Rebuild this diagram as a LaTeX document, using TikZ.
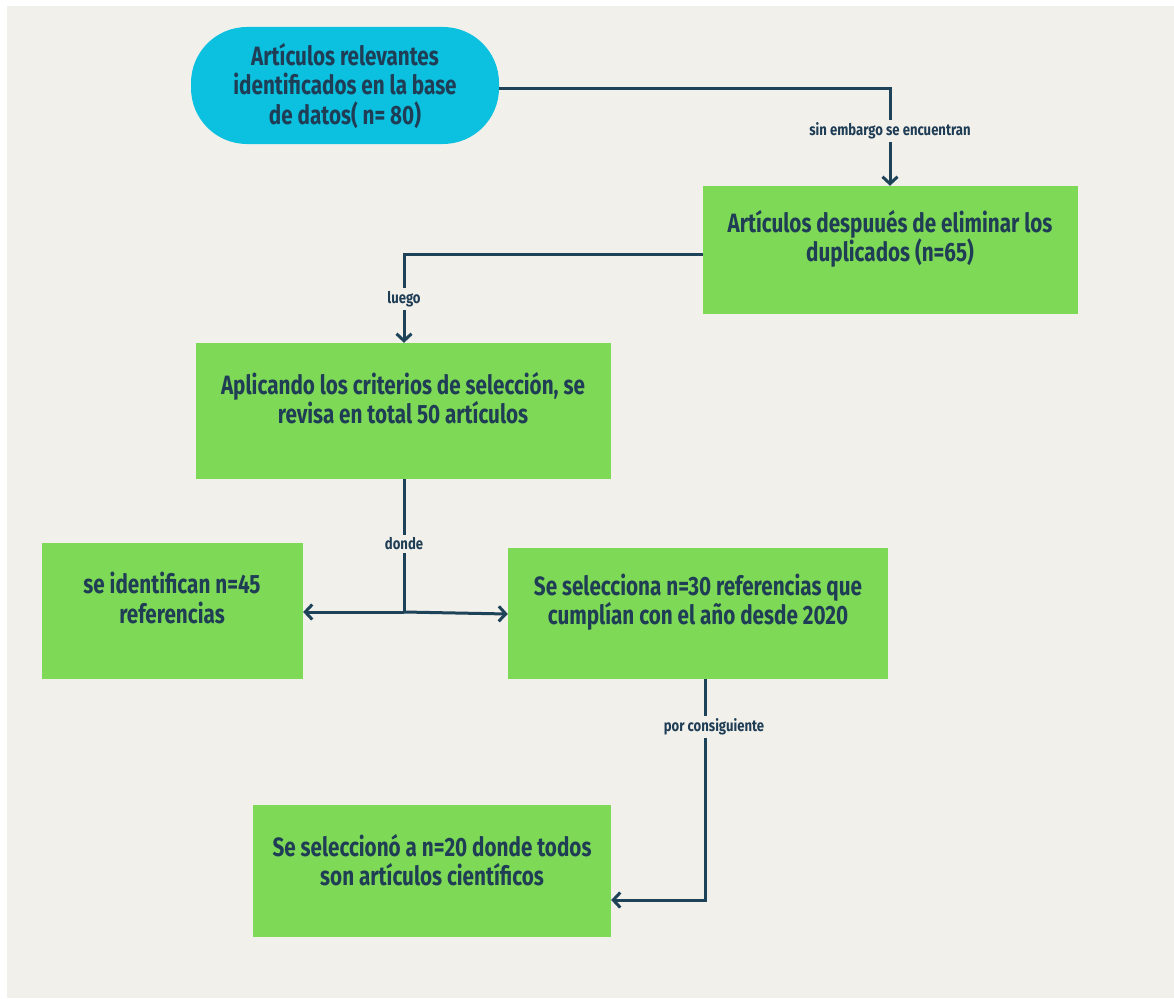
\documentclass[tikz,border=0pt]{standalone}
\usepackage{fontspec}
\newfontfamily\cf{Fira Sans}[FakeStretch=0.78]
\newfontfamily\cfl{Fira Sans}[FakeStretch=0.82]
\usetikzlibrary{arrows.meta}
\definecolor{bgbeige}{HTML}{F1F0EB}
\definecolor{gfill}{HTML}{7ED957}
\definecolor{cfill}{HTML}{0CC0DF}
\definecolor{ink}{HTML}{1F3D55}
\definecolor{wire}{HTML}{1E4358}
\tikzset{
  gbox/.style={fill=gfill, draw=none, inner sep=0pt},
  cbox/.style={fill=cfill, draw=none, inner sep=0pt, rounded corners=56pt},
  txt/.style={font=\cf\bfseries\fontsize{26.5}{29.5}\selectfont, text=ink, align=center, inner sep=0pt},
  lbl/.style={font=\cfl\bfseries\fontsize{16}{18}\selectfont, text=ink, fill=bgbeige, inner sep=3pt},
  conn/.style={draw=wire, line width=3pt, line join=miter},
  tip/.style={-{Straight Barb[length=7pt,width=15pt]}},
}
\begin{document}
\begin{tikzpicture}[x=1pt,y=-1pt]
\useasboundingbox (0,0) rectangle (1174,998);
\fill[white] (0,0) rectangle (1174,998);
\fill[bgbeige] (7,6) rectangle (1174,998);
% boxes
\node[cbox, minimum width=308pt, minimum height=117pt] (b1) at (345,85.5) {};
\node[gbox, minimum width=375pt, minimum height=128pt] (b2) at (890.5,250) {};
\node[gbox, minimum width=415pt, minimum height=136pt] (b3) at (403.5,411) {};
\node[gbox, minimum width=261pt, minimum height=136pt] (b4) at (172.5,611) {};
\node[gbox, minimum width=380pt, minimum height=131pt] (b5) at (698,613.5) {};
\node[gbox, minimum width=358pt, minimum height=132pt] (b6) at (432,871) {};
% texts
\node[txt] (t1) at (345,86) {Artículos relevantes\\identificados en la base\\de datos( n= 80)};
\node[txt] (t2) at (890,239) {Artículos despuués de eliminar los\\duplicados (n=65)};
\node[txt] (t3) at (403,398) {Aplicando los criterios de selección, se\\revisa en total 50 artículos};
\node[txt] (t4) at (172,598) {se identifican n=45\\referencias};
\node[txt] (t5) at (698,602) {Se selecciona n=30 referencias que\\cumplían con el año desde 2020};
\node[txt] (t6) at (432,860) {Se seleccionó a n=20 donde todos\\son artículos científicos};
% junction coordinates
\coordinate (c1) at (890,88);
\coordinate (c2) at (404,254);
\coordinate (c3) at (404,612);
\coordinate (c4) at (705,900);
% connectors
\draw[conn, tip] (b1.east |- c1) -- (c1) -- (c1 |- b2.north);
\draw[conn, tip] (b2.west |- c2) -- (c2) -- (c2 |- b3.north);
\draw[conn] (c3 |- b3.south) -- (c3);
\draw[conn, tip] (c3) -- (b4.east |- c3);
\draw[conn, tip] (c3) -- ([yshift=-2pt]b5.west |- c3);
\draw[conn, tip] (c4 |- b5.south) -- (c4) -- (b6.east |- c4);
% labels
\node[lbl] (l1) at (890,131) {sin embargo se encuentran};
\node[lbl] (l2) at (404,299) {luego};
\node[lbl] (l3) at (404,544) {donde};
\node[lbl] (l4) at (714,727) {por consiguiente};
\end{tikzpicture}
\end{document}
